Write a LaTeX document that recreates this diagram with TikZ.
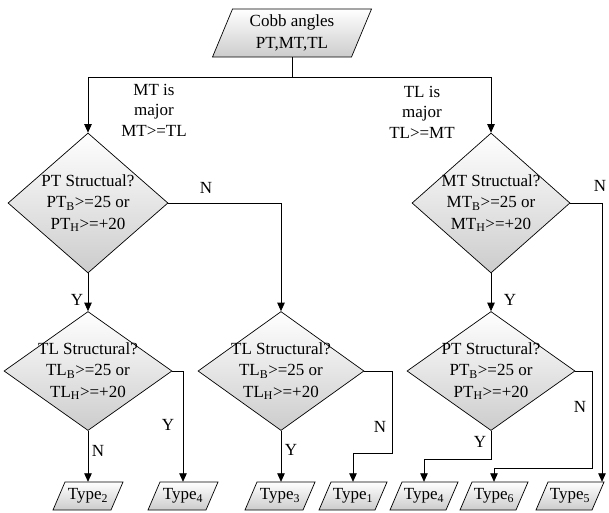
\documentclass[tikz,border=0pt]{standalone}
\usepackage{fontspec}
\setmainfont{Liberation Serif}
\usetikzlibrary{shapes.geometric,arrows.meta}
\tikzset{
  ln/.style={line width=0.8pt},
  arr/.style={ln,-{Triangle[length=8.5pt,width=7.5pt]}},
  shadefill/.style={draw=black,line width=0.7pt,top color=white,bottom color=black!20},
  dia/.style={shape=diamond,shadefill,inner sep=0pt},
  txt/.style={font=\fontsize{17}{21.5}\selectfont,align=center,inner sep=0pt},
  lbl/.style={font=\fontsize{17}{20.5}\selectfont,align=center,inner sep=0pt},
}
\newcommand\pgbox[7]{% name, cx, cy, w, h, slant, text
  \path[shadefill] ({#2-#4/2},{#3+#5/2}) -- ({#2-#4/2+#6},{#3-#5/2}) -- ({#2+#4/2},{#3-#5/2}) -- ({#2+#4/2-#6},{#3+#5/2}) -- cycle;
  \node[txt,minimum height=#5pt] (#1) at (#2,#3) {#7};}
\begin{document}
\begin{tikzpicture}[x=1pt,y=-1pt]
\useasboundingbox (0,0) rectangle (609,512);
% top input
\pgbox{cobb}{292}{33}{159}{48}{20}{Cobb angles\\PT,MT,TL}
% decisions
\node[dia,minimum width=160pt,minimum height=140pt,
  label={[txt]center:{PT Structual?\\PT\textsubscript{B}>=25 or\\PT\textsubscript{H}>=+20}}] (d1) at (88,203) {};
\node[dia,minimum width=158pt,minimum height=140pt,
  label={[txt]center:{MT Structual?\\MT\textsubscript{B}>=25 or\\MT\textsubscript{H}>=+20}}] (d4) at (491,203) {};
\node[dia,minimum width=168pt,minimum height=119pt,
  label={[txt]center:{TL Structural?\\TL\textsubscript{B}>=25 or\\TL\textsubscript{H}>=+20}}] (d2) at (88,371) {};
\node[dia,minimum width=166pt,minimum height=119pt,
  label={[txt]center:{TL Structural?\\TL\textsubscript{B}>=25 or\\TL\textsubscript{H}>=+20}}] (d3) at (281,371) {};
\node[dia,minimum width=168pt,minimum height=119pt,
  label={[txt]center:{PT Structural?\\PT\textsubscript{B}>=25 or\\PT\textsubscript{H}>=+20}}] (d5) at (491,371) {};
% outputs
\pgbox{t2}{88}{496}{70}{28}{12}{Type\textsubscript{2}}
\pgbox{t4a}{183}{496}{70}{28}{12}{Type\textsubscript{4}}
\pgbox{t3}{280}{496}{70}{28}{12}{Type\textsubscript{3}}
\pgbox{t1}{353}{496}{68}{28}{12}{Type\textsubscript{1}}
\pgbox{t4b}{424}{496}{68}{28}{12}{Type\textsubscript{4}}
\pgbox{t6}{494}{496}{68}{28}{12}{Type\textsubscript{6}}
\pgbox{t5}{570}{496}{68}{28}{12}{Type\textsubscript{5}}
% connectors
\draw[ln] (cobb.south) -- ++(0,20) coordinate (split);
\draw[arr] (split) -| (d1.north);
\draw[arr] (split) -| (d4.north);
\draw[arr] (d1.east) -| (d3.north);
\draw[arr] (d1.south) -- (d2.north);
\draw[arr] (d2.south) -- (t2.north);
\draw[arr] (d2.east) -| (t4a.north);
\draw[arr] (d3.south) -- (d3.south |- t3.north);
\draw[arr] (d3.east) -- ++(28,0) -- ++(0,82) -| (t1.north);
\draw[arr] (d4.east) -| ([xshift=32pt]t5.north);
\draw[arr] (d4.south) -- (d5.north);
\draw[arr] (d5.south) -- ++(0,29) -| (t4b.north);
\draw[arr] (d5.east) -- ++(17,0) -- ++(0,97) -| (t6.north);
% labels
\node[lbl] (mtl) at (154,110) {MT is\\major\\MT>=TL};
\node[lbl] (tll) at (422,112) {TL is\\major\\TL>=MT};
\node[lbl] (n1) at (206,188) {N};
\node[lbl] (y1) at (77,300) {Y};
\node[lbl] (n2) at (98,451) {N};
\node[lbl] (y2) at (168,425) {Y};
\node[lbl] (y3) at (291,450) {Y};
\node[lbl] (n3) at (380,427) {N};
\node[lbl] (n4) at (600,186) {N};
\node[lbl] (y4) at (510,300) {Y};
\node[lbl] (y5) at (480,442) {Y};
\node[lbl] (n5) at (580,407) {N};
\end{tikzpicture}
\end{document}
